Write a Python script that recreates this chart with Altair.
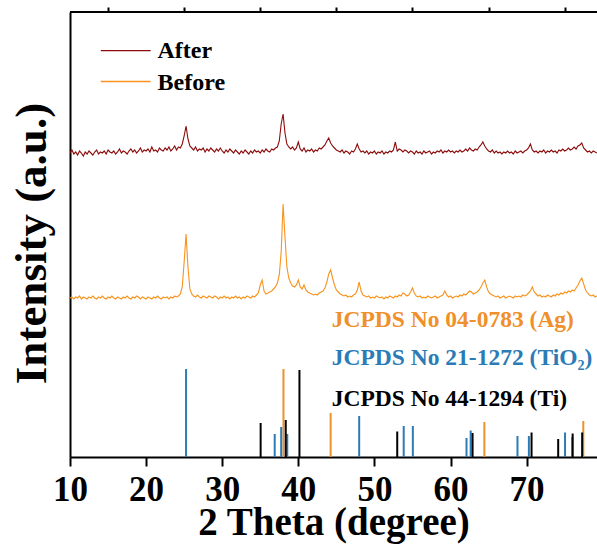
import altair as alt
import pandas as pd

# ---------------- data ----------------
SCAN_START = 10.0
SCAN_STEP = 0.25

AFTER_Y = [
    304, 307, 303, 305, 302, 306, 304, 301, 305, 303, 306, 304, 302, 305, 307, 303,
    305, 304, 306, 303, 307, 305, 304, 306, 303, 305, 308, 304, 306, 305, 303, 306,
    308, 305, 307, 304, 306, 309, 305, 307, 306, 308, 305, 310, 306, 307, 305, 309,
    307, 306, 309, 307, 310, 306, 308, 311, 307, 310, 309, 313, 321, 331, 318, 311,
    309, 307, 310, 306, 308, 307, 309, 305, 308, 306, 309, 307, 305, 308, 306, 309,
    306, 304, 307, 305, 308, 306, 304, 307, 305, 303, 306, 304, 307, 305, 303, 306,
    304, 307, 305, 306, 304, 307, 305, 308, 306, 305, 308, 307, 309, 310, 316, 333,
    343, 324, 313, 310, 308, 310, 307, 309, 315, 308, 306, 309, 305, 307, 306, 308,
    305, 307, 306, 309, 308, 310, 312, 316, 319, 314, 311, 309, 307, 306, 305, 307,
    304, 306, 305, 303, 306, 305, 308, 313, 308, 305, 306, 304, 306, 303, 305, 304,
    306, 303, 305, 304, 306, 303, 305, 304, 306, 305, 307, 315, 306, 308, 307, 305,
    307, 306, 304, 306, 305, 303, 306, 304, 305, 303, 306, 304, 305, 306, 303, 305,
    304, 306, 305, 307, 304, 306, 305, 307, 305, 306, 304, 306, 305, 307, 305, 306,
    308, 306, 309, 307, 306, 308, 307, 310, 312, 315, 311, 308, 306, 305, 307, 304,
    306, 304, 305, 303, 305, 304, 306, 304, 305, 303, 306, 304, 305, 306, 304, 306,
    307, 309, 313, 307, 305, 306, 304, 306, 305, 307, 304, 306, 305, 307, 305, 306,
    304, 307, 306, 308, 306, 307, 309, 307, 308, 310, 308, 311, 312, 314, 309, 307,
    305, 306, 304, 306, 305, 304,
]

BEFORE_Y = [
    159, 160, 158, 160, 159, 161, 158, 160, 159, 158, 160, 159, 161, 159, 158, 160,
    159, 161, 159, 158, 160, 159, 161, 159, 158, 160, 159, 158, 160, 159, 161, 159,
    158, 160, 159, 161, 160, 158, 160, 159, 158, 160, 159, 158, 160, 159, 161, 159,
    158, 160, 159, 160, 158, 160, 159, 161, 160, 161, 163, 170, 195, 223, 190, 168,
    163, 161, 160, 162, 160, 159, 161, 160, 159, 161, 160, 159, 161, 160, 158, 160,
    159, 161, 159, 160, 158, 160, 159, 161, 159, 160, 158, 160, 159, 161, 160, 159,
    161, 160, 162, 164, 172, 177, 166, 163, 164, 165, 166, 168, 170, 174, 182, 205,
    253, 220, 190, 179, 174, 171, 170, 172, 177, 170, 168, 172, 167, 165, 164, 163,
    162, 163, 162, 164, 165, 166, 169, 175, 183, 187, 179, 172, 167, 165, 163, 162,
    161, 162, 160, 161, 160, 162, 163, 167, 175, 166, 162, 161, 160, 161, 159, 160,
    159, 161, 160, 159, 160, 158, 160, 159, 161, 160, 159, 161, 160, 162, 161, 164,
    163, 161, 162, 165, 169, 164, 161, 160, 161, 159, 160, 159, 161, 160, 159, 160,
    161, 159, 160, 161, 162, 166, 162, 160, 161, 159, 160, 161, 160, 162, 161, 163,
    162, 164, 166, 165, 163, 164, 165, 167, 170, 174, 177, 170, 165, 163, 162, 161,
    160, 161, 159, 160, 161, 159, 160, 161, 160, 159, 161, 160, 161, 160, 162, 161,
    162, 164, 166, 170, 165, 163, 161, 162, 160, 161, 160, 162, 161, 160, 162, 161,
    163, 162, 164, 163, 165, 164, 166, 165, 167, 166, 169, 172, 176, 179, 173, 167,
    164, 162, 161, 162, 160, 161,
]

AG_POS = [38.05, 44.25, 64.45, 77.45]
AG_INT = [88, 44, 35, 36]
TIO2_POS = [25.25, 36.9, 37.75, 38.55, 48.0, 53.85, 55.05, 62.1, 62.65, 68.8, 70.3, 75.05, 76.0]
TIO2_INT = [88, 23, 30, 23, 41, 31, 31, 19, 26.5, 21, 21, 24.5, 20]
TI_POS = [35.05, 38.35, 40.15, 53.0, 62.9, 70.65, 74.15, 76.05, 77.3]
TI_INT = [34, 37, 87, 25.5, 24, 24.5, 18, 23.5, 24.5]

SERIES = ["After", "Before"]
PHASES = ["Ag", "TiO2", "Ti"]
REF_LABELS = ["JCPDS No 04-0783 (Ag)", "JCPDS No 21-1272 (TiO\u2082)", "JCPDS No 44-1294 (Ti)"]
X_MAJOR = [10, 20, 30, 40, 50, 60, 70]
X_MINOR = [15, 25, 35, 45, 55, 65, 75]

# ---------------- layout / style (kept apart from data) ----------------
X_DOMAIN = [10, 79.25]
Y_DOMAIN = [0, 445]
PLOT_W, PLOT_H = 527, 445
FONT = "Liberation Serif"
COLORS = {
    "After": "#8b0c0c",
    "Before": "#f7931e",
    "Ag": "#f0902a",
    "TiO2": "#2b7bb6",
    "Ti": "#000000",
}
REF_LABEL_X = 44.4
REF_LABEL_Y = [130, 92, 51]
LEG_X0, LEG_X1, LEG_TX = 14.05, 20.6, 21.5
LEG_LINE_Y = [406.3, 375.5]
LEG_TEXT_Y = [399.5, 367.3]

# ---------------- tables ----------------
rows = []
for name, ys in (("After", AFTER_Y), ("Before", BEFORE_Y)):
    for i, v in enumerate(ys):
        rows.append({"series": name, "theta": SCAN_START + SCAN_STEP * i, "intensity": v})
curves = pd.DataFrame(rows)

stick_rows = []
for ph, pos, its in (("Ag", AG_POS, AG_INT), ("TiO2", TIO2_POS, TIO2_INT), ("Ti", TI_POS, TI_INT)):
    for p, h in zip(pos, its):
        stick_rows.append({"series": ph, "theta": p, "base": 0, "intensity": h})
sticks = pd.DataFrame(stick_rows)

labels = pd.DataFrame({"series": PHASES, "label": REF_LABELS,
                       "theta": [REF_LABEL_X] * 3, "intensity": REF_LABEL_Y})
leg_lines = pd.DataFrame({"series": SERIES, "x0": [LEG_X0] * 2, "x1": [LEG_X1] * 2,
                          "intensity": LEG_LINE_Y})
leg_text = pd.DataFrame({"series": SERIES, "theta": [LEG_TX] * 2, "intensity": LEG_TEXT_Y})
minor_df = pd.DataFrame({"theta": X_MINOR})

# ---------------- scales / axes ----------------
xscale = alt.Scale(domain=X_DOMAIN, nice=False, zero=False)
yscale = alt.Scale(domain=Y_DOMAIN, nice=False, zero=False)
cscale = alt.Scale(domain=list(COLORS.keys()), range=list(COLORS.values()))

xaxis = alt.Axis(
    values=X_MAJOR,
    tickSize=9,
    labelBaseline="alphabetic",
    labelPadding=34,
    labelFontSize=35,
    title="2 Theta (degree)",
    titleFontSize=39,
    titleBaseline="alphabetic",
    titleY=77,
)
xaxis_minor = alt.Axis(
    values=X_MINOR, tickSize=5, labels=False, domain=False, title=None,
)
yaxis = alt.Axis(
    labels=False, ticks=False,
    title="Intensity (a.u.)",
    titleFontSize=45,
    titlePadding=16,
    titleY=231,
)

color = alt.Color("series:N", scale=cscale, legend=None)

lines = alt.Chart(curves).mark_line(strokeWidth=1.1, clip=True).encode(
    x=alt.X("theta:Q", scale=xscale, axis=xaxis),
    y=alt.Y("intensity:Q", scale=yscale, axis=yaxis),
    color=color,
)

minor_ticks = alt.Chart(minor_df).mark_point(opacity=0).encode(
    x=alt.X("theta:Q", scale=xscale, axis=xaxis_minor),
)

stick_marks = alt.Chart(sticks).mark_rule(strokeWidth=2, clip=True).encode(
    x=alt.X("theta:Q", axis=None),
    y=alt.Y("base:Q"),
    y2="intensity:Q",
    color=color,
)

label_marks = alt.Chart(labels).mark_text(
    align="left", baseline="alphabetic", font=FONT, fontSize=23.5, fontWeight="bold"
).encode(
    x=alt.X("theta:Q", axis=None),
    y=alt.Y("intensity:Q"),
    text="label:N",
    color=color,
)

leg_line_marks = alt.Chart(leg_lines).mark_rule(strokeWidth=1.3).encode(
    x=alt.X("x0:Q", axis=None),
    x2="x1:Q",
    y=alt.Y("intensity:Q"),
    color=color,
)
leg_text_marks = alt.Chart(leg_text).mark_text(
    align="left", baseline="alphabetic", font=FONT, fontSize=24, fontWeight="bold", color="black"
).encode(
    x=alt.X("theta:Q", axis=None),
    y=alt.Y("intensity:Q"),
    text="series:N",
)

top_border = alt.Chart(pd.DataFrame({"k": [0]})).mark_rule(color="black", strokeWidth=2).encode(
    x=alt.value(0), x2=alt.value(PLOT_W), y=alt.value(0)
)

chart = alt.layer(
    lines, minor_ticks, stick_marks, label_marks, leg_line_marks, leg_text_marks, top_border
).resolve_axis(
    x="independent"
).properties(
    width=PLOT_W, height=PLOT_H,
    padding={"left": 70, "top": 12, "right": 0, "bottom": 88},
    autosize=alt.AutoSizeParams(type="none"),
    background="white",
).configure_view(
    stroke=None
).configure_axis(
    grid=False,
    domainColor="black", domainWidth=2,
    tickColor="black", tickWidth=2,
    labelFont=FONT, labelFontWeight="bold", labelColor="black",
    titleFont=FONT, titleFontWeight="bold", titleColor="black",
    labelFlush=False, labelOverlap=False,
)

chart.save("out.html", embed_options={"renderer": "svg", "actions": False})
